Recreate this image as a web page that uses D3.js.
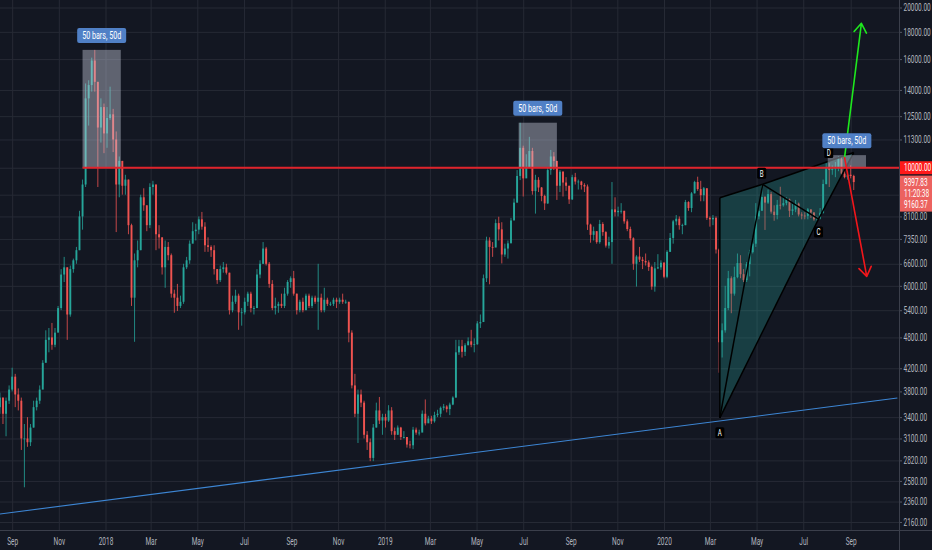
<!DOCTYPE html>
<html>
<head>
<meta charset="utf-8">
<script src="https://cdn.jsdelivr.net/npm/d3@7.9.0/dist/d3.min.js"></script>
<style>
  html, body { margin: 0; padding: 0; background: #131722; overflow: hidden; }
  svg { display: block; }
  text { font-family: Roboto, "DejaVu Sans", sans-serif; }
</style>
</head>
<body>
<svg id="chart" width="932" height="550"></svg>
<script>
// 4-day candles, EUR prices; open = previous close
const firstDay = '2017-08-14';
const periodDays = 4;
const firstOpen = 3550;

const closes = [
  3700, 3450, 3650, 3830, 4050, 3750, 3650, 3100, 3100, 3050,
  3250, 3550, 3650, 3830, 4300, 4750, 4800, 4650, 4900, 5450,
  6300, 6500, 5300, 6450, 6700, 7000, 8100, 9300, 13500, 14300,
  15900, 14500, 11900, 13000, 11600, 12400, 12600, 11300, 9300, 10300,
  9250, 9500, 7800, 5700, 6700, 7000, 8800, 8500, 7800, 9200,
  9300, 7500, 7400, 6500, 7100, 6850, 5800, 5700, 5500, 5600,
  6500, 6700, 7200, 7600, 7650, 8000, 7750, 7150, 7100, 7000,
  6450, 6150, 6450, 6500, 6350, 5400, 5600, 5750, 5350, 5350,
  5600, 5800, 5450, 5450, 6300, 6600, 7050, 6600, 6050, 5450,
  5500, 5550, 5500, 5800, 6100, 6200, 5800, 5400, 5600, 5400,
  5750, 5500, 5700, 5600, 5700, 5400, 5650, 5550, 5550, 5650,
  5600, 5650, 5600, 5600, 4900, 3900, 3450, 3750, 3620, 3150,
  3050, 2850, 3250, 3500, 3350, 3400, 3350, 3500, 3200, 3150,
  3250, 3120, 3120, 3020, 3010, 3220, 3180, 3180, 3450, 3310,
  3380, 3340, 3430, 3450, 3540, 3560, 3520, 3590, 3700, 4500,
  4620, 4510, 4640, 4720, 4650, 4660, 5100, 5130, 6200, 7300,
  7100, 7080, 7870, 7660, 6870, 7050, 7210, 7960, 8600, 9650,
  10900, 9550, 9990, 10750, 9040, 9490, 9180, 8850, 8570, 9900,
  10500, 10300, 9250, 9830, 9380, 9250, 8720, 9600, 9420, 9420,
  9280, 9220, 7820, 7480, 7600, 7250, 7840, 7570, 7140, 7250,
  8350, 8250, 8300, 8300, 7930, 7670, 7370, 6600, 6810, 6720,
  6680, 6640, 6510, 5980, 6470, 6500, 6630, 6240, 6950, 7380,
  7930, 8020, 7800, 7800, 8620, 8400, 8950, 9400, 9120, 8880,
  9150, 8050, 8000, 8050, 7020, 4700, 4950, 5450, 6200, 5800,
  6230, 6620, 6310, 6150, 6590, 6940, 7200, 8100, 8300, 8810,
  8600, 8920, 8270, 8150, 8520, 8500, 8580, 8720, 8300, 8350,
  8560, 8170, 8130, 8120, 8350, 8240, 8000, 8030, 8230, 9320,
  10030, 9900, 9950, 9970, 10380, 9750, 9600, 9700, 9650, 9397.83
];

const highs = [
  3780, 3700, 3700, 3900, 4210, 4100, 3850, 3700, 3300, 3400,
  3300, 3650, 3700, 3900, 4350, 4950, 5000, 5110, 5000, 5500,
  6450, 6800, 6500, 6550, 6750, 7100, 8300, 9500, 14400, 14600,
  16100, 16650, 14500, 13500, 13200, 13000, 14200, 12900, 11700, 10500,
  10300, 9700, 9500, 7850, 6900, 7300, 8900, 9150, 8500, 9350,
  9450, 9300, 7800, 7400, 7300, 7250, 6900, 5900, 6050, 5750,
  6600, 6800, 7300, 7900, 7850, 8100, 8260, 7900, 7400, 7150,
  7150, 6450, 6550, 6650, 6600, 6350, 5750, 5900, 5800, 5450,
  5700, 5850, 5850, 5500, 6450, 6700, 7250, 7100, 6650, 6150,
  5700, 5600, 5800, 5950, 6150, 6250, 6400, 5800, 5650, 5700,
  5800, 5800, 5750, 5750, 6600, 5800, 5950, 5700, 5600, 5700,
  5700, 5700, 5800, 5650, 5600, 4950, 4100, 3830, 3830, 3650,
  3200, 3100, 3300, 3620, 3710, 3450, 3450, 3580, 3550, 3250,
  3280, 3260, 3200, 3120, 3070, 3260, 3250, 3220, 3500, 3670,
  3420, 3420, 3480, 3510, 3560, 3600, 3580, 3620, 3720, 4750,
  4750, 4750, 4680, 4800, 4960, 4780, 5150, 5300, 6300, 7420,
  7400, 7250, 8000, 8090, 7900, 7200, 7300, 8050, 8750, 9900,
  12150, 11000, 10600, 11430, 10900, 9700, 9600, 9200, 8900, 10030,
  10800, 10700, 10300, 9900, 9850, 9600, 9250, 9700, 9780, 9500,
  9450, 9350, 9300, 7850, 7750, 7600, 7980, 7900, 7600, 7420,
  9400, 8800, 8450, 8580, 8300, 8000, 7750, 7400, 6850, 7100,
  6800, 6900, 6700, 6550, 6650, 6880, 6700, 6650, 7000, 7540,
  7980, 8150, 8100, 7850, 8700, 8650, 9000, 9450, 9620, 9450,
  9200, 9150, 8100, 8150, 8100, 7050, 5100, 6000, 6400, 6250,
  6520, 6900, 6850, 6450, 6650, 7010, 7400, 8580, 8500, 9310,
  8850, 9100, 9000, 8500, 8700, 9210, 8800, 8800, 8750, 8550,
  8700, 8600, 8250, 8250, 8400, 8350, 8250, 8100, 8400, 9500,
  10200, 10200, 10100, 10250, 10500, 10480, 10000, 9850, 10100, 9700
];

const lows = [
  3450, 3300, 3130, 3600, 3800, 3550, 3500, 2950, 2510, 2990,
  3000, 3250, 3500, 3600, 3900, 4450, 4500, 4550, 4600, 4950,
  5400, 6100, 4750, 5250, 6350, 6600, 7000, 7650, 9200, 12000,
  13900, 13900, 9200, 11150, 10650, 10900, 12300, 10700, 7570, 8800,
  8900, 8900, 7500, 5500, 4710, 6500, 7000, 8300, 7600, 7700,
  8900, 7000, 7050, 6300, 5950, 6700, 5700, 5340, 5380, 5450,
  5550, 6450, 6600, 7250, 7300, 7500, 7650, 6950, 6950, 6800,
  6300, 6050, 6100, 6350, 6300, 5300, 5350, 5550, 4960, 5050,
  5300, 5500, 5350, 5300, 5450, 6200, 6600, 6550, 5950, 5400,
  5300, 5340, 5450, 5450, 5750, 5950, 5750, 5300, 5350, 5350,
  5400, 5450, 5450, 5550, 4960, 5350, 5350, 5500, 5500, 5500,
  5450, 5550, 5550, 5550, 4700, 3850, 3400, 3040, 3550, 3100,
  2950, 2810, 2810, 3250, 3300, 3150, 3250, 3330, 3150, 3080,
  3150, 3080, 3100, 2980, 2970, 2960, 3150, 3140, 3200, 3280,
  3320, 3300, 3320, 3400, 3400, 3500, 3470, 3430, 3580, 3700,
  4450, 4400, 4430, 4640, 4600, 4500, 4650, 5000, 5200, 6100,
  6040, 6800, 7100, 7300, 6610, 6800, 6750, 7250, 8050, 8600,
  9480, 8830, 9700, 10000, 8900, 8200, 9000, 8650, 8330, 8550,
  9700, 9900, 8700, 9000, 8830, 9050, 8550, 8700, 9300, 9100,
  9100, 9000, 7640, 7230, 7300, 7200, 7200, 7450, 7080, 7050,
  6600, 8100, 8100, 8200, 7850, 7600, 7300, 6430, 5980, 6650,
  6450, 6550, 6400, 5900, 5850, 6450, 6430, 6200, 6200, 6950,
  7200, 7800, 7650, 7500, 7800, 8300, 8250, 8950, 9050, 8650,
  8650, 7980, 7750, 7800, 6900, 4120, 4400, 4900, 5400, 5330,
  5750, 6200, 6200, 6100, 6100, 6250, 6900, 7100, 8000, 8400,
  7640, 8550, 8200, 7950, 8000, 8350, 8450, 8500, 8080, 8150,
  8250, 8100, 8000, 8000, 8000, 8050, 7950, 7960, 8000, 8200,
  9300, 9200, 9700, 9600, 9850, 9650, 9550, 9500, 9550, 9080
];

// price axis labels as shown, plus grid lines hidden under the price tags
const priceTicks = [20000, 18000, 16000, 14000, 12500, 11300, 8100, 7350, 6600,
  6000, 5400, 4800, 4200, 3800, 3400, 3100, 2820, 2580, 2360, 2160];
const gridPrices = priceTicks.concat([10000, 8900]);

const monthTicks = ['2017-09-01', '2017-11-01', '2018-01-01', '2018-03-01', '2018-05-01',
  '2018-07-01', '2018-09-01', '2018-11-01', '2019-01-01', '2019-03-01', '2019-05-01',
  '2019-07-01', '2019-09-01', '2019-11-01', '2020-01-01', '2020-03-01', '2020-05-01',
  '2020-07-01', '2020-09-01'];

// drawings
const levelPrice = 10000;
const levelStart = '2017-12-02';
const trendLine = [['2017-08-16', 2236], ['2020-11-01', 3694]];
const ranges = [
  { from: '2017-12-02', to: '2018-01-21', lo: 10000, hi: 16650 },
  { from: '2019-06-25', to: '2019-08-14', lo: 10000, hi: 12150 },
  { from: '2020-08-02', to: '2020-09-21', lo: 10000, hi: 10560 }
];
const rangeText = '50 bars, 50d';
const patternNames = ['X', 'A', 'B', 'C', 'D'];
const patternDates = ['2020-03-14', '2020-03-14', '2020-05-09', '2020-07-21', '2020-09-05'];
const patternPrices = [8780, 3390, 9310, 8010, 10680];
const upArrow = [['2020-08-24', 10450], ['2020-09-15', 18680]];
const downArrow = [['2020-08-24', 10450], ['2020-09-22', 6250]];
const lastPrice = '9397.83';
const countdown = '11:20:38';
const otherPrice = '9160.37';

const W = 932, H = 550, paneW = 899, paneH = 530;
const sx = 0.65; // narrow text like the screenshot
const parse = d3.utcParse('%Y-%m-%d');
const DAY = 864e5;

const svg = d3.select('#chart');
svg.append('rect').attr('width', W).attr('height', H).attr('fill', '#131722');

const x = d3.scaleUtc()
  .domain([parse('2018-01-01'), parse('2020-01-01')])
  .range([105.5, 664]);
const y = d3.scaleLog().domain([2160, 20000]).range([522, 7.5]);

const P = (d, p) => [x(parse(d)), y(p)];

// gridlines
svg.append('g')
  .call(d3.axisRight(y).tickValues(gridPrices).tickSize(paneW).tickFormat(''))
  .call(g => g.select('.domain').remove())
  .selectAll('line').attr('stroke', '#262a35');
svg.append('g')
  .call(d3.axisBottom(x).tickValues(monthTicks.map(parse)).tickSize(paneH).tickFormat(''))
  .call(g => g.select('.domain').remove())
  .selectAll('line').attr('stroke', '#262a35');

svg.append('clipPath').attr('id', 'pane')
  .append('rect').attr('width', paneW).attr('height', paneH);
const pane = svg.append('g').attr('clip-path', 'url(#pane)');

// trend line
pane.append('line')
  .attr('x1', P(...trendLine[0])[0]).attr('y1', P(...trendLine[0])[1])
  .attr('x2', P(...trendLine[1])[0]).attr('y2', P(...trendLine[1])[1])
  .attr('stroke', '#3d86d4').attr('stroke-width', 1.1);

// candles
const t0 = parse(firstDay);
const candles = closes.map((c, i) => ({
  t: new Date(t0.getTime() + i * periodDays * DAY),
  open: i ? closes[i - 1] : firstOpen,
  close: c,
  high: highs[i],
  low: lows[i]
}));
const step = x(new Date(t0.getTime() + periodDays * DAY)) - x(t0);
const bodyW = step * 0.62;
const mid = d => x(new Date(d.t.getTime() + periodDays * DAY / 2));
const col = d => d.close >= d.open ? '#26a69a' : '#ef5350';

const cg = pane.append('g').attr('class', 'candles');
cg.selectAll('line').data(candles).join('line')
  .attr('x1', mid).attr('x2', mid)
  .attr('y1', d => y(d.high)).attr('y2', d => y(d.low))
  .attr('stroke', col).attr('stroke-width', 0.8);
cg.selectAll('rect').data(candles).join('rect')
  .attr('x', d => mid(d) - bodyW / 2)
  .attr('width', bodyW)
  .attr('y', d => y(Math.max(d.open, d.close)))
  .attr('height', d => Math.max(0.8, Math.abs(y(d.open) - y(d.close))))
  .attr('fill', col);

// harmonic pattern
const pts = patternDates.map((d, i) => P(d, patternPrices[i]));
const [pX, pA, pB, pC, pD] = pts;
pane.append('path')
  .attr('d', d3.line()([pX, pB, pD, pC, pA]) + 'Z')
  .attr('fill', 'rgba(38,166,154,0.28)');
const seg = (a, b) => pane.append('line')
  .attr('x1', a[0]).attr('y1', a[1]).attr('x2', b[0]).attr('y2', b[1])
  .attr('stroke', '#000').attr('stroke-width', 1.5);
seg(pX, pB); seg(pB, pD); seg(pX, pA); seg(pA, pB); seg(pB, pC); seg(pA, pC); seg(pC, pD);

// date ranges
ranges.forEach(r => {
  const x0 = x(parse(r.from)), x1 = x(parse(r.to));
  pane.append('rect')
    .attr('x', x0).attr('y', y(r.hi))
    .attr('width', x1 - x0).attr('height', y(r.lo) - y(r.hi))
    .attr('fill', 'rgba(200,206,222,0.42)');
});

// 10000 level
pane.append('line')
  .attr('x1', x(parse(levelStart))).attr('x2', paneW)
  .attr('y1', y(levelPrice)).attr('y2', y(levelPrice))
  .attr('stroke', '#e0232b').attr('stroke-width', 2);

// arrows
function arrow(a, b, color) {
  const [x0, y0] = P(...a), [x1, y1] = P(...b);
  const ang = Math.atan2(y1 - y0, x1 - x0), len = 11, spread = 0.6;
  const h1 = [x1 - len * Math.cos(ang - spread), y1 - len * Math.sin(ang - spread)];
  const h2 = [x1 - len * Math.cos(ang + spread), y1 - len * Math.sin(ang + spread)];
  pane.append('path')
    .attr('d', `M${x0},${y0}L${x1},${y1}M${h1}L${x1},${y1}L${h2}`)
    .attr('fill', 'none').attr('stroke', color).attr('stroke-width', 1.6)
    .attr('stroke-linejoin', 'round').attr('stroke-linecap', 'round');
}
arrow(upArrow[0], upArrow[1], '#1ee81e');
arrow(downArrow[0], downArrow[1], '#f2161b');

// text helper: squeezed horizontally
function label(g, tx, ty, str, size, fill, anchor = 'middle') {
  return g.append('text')
    .attr('transform', `translate(${tx},${ty}) scale(${sx},1)`)
    .attr('text-anchor', anchor).attr('dy', '0.35em')
    .attr('font-size', size).attr('fill', fill).text(str);
}

const ann = svg.append('g');

// point labels A-D (drawn first so the range tags sit on top)
const labelOffsets = { A: [0, 15], B: [-1, -11], C: [0, 13], D: [-25, 0] };
patternNames.forEach((n, i) => {
  if (!labelOffsets[n]) return;
  const [lx, ly] = [pts[i][0] + labelOffsets[n][0], pts[i][1] + labelOffsets[n][1]];
  ann.append('rect').attr('x', lx - 4.5).attr('y', ly - 5.5).attr('width', 9).attr('height', 11)
    .attr('rx', 1.5).attr('fill', '#000');
  label(ann, lx, ly, n, 9.5, '#ffffff');
});

ranges.forEach(r => {
  const cx = (x(parse(r.from)) + x(parse(r.to))) / 2;
  const top = y(r.hi) - 7;
  ann.append('rect')
    .attr('x', cx - 24.5).attr('y', top - 15).attr('width', 49).attr('height', 15)
    .attr('rx', 2).attr('fill', '#5080c6');
  label(ann, cx, top - 7.5, rangeText, 11, '#ffffff');
});

// price axis
const yAxis = svg.append('g').attr('transform', `translate(${paneW},0)`)
  .call(d3.axisRight(y).tickValues(priceTicks).tickSize(3).tickFormat(d => d.toFixed(2)));
yAxis.select('.domain').remove();
yAxis.selectAll('line').attr('stroke', '#565a66');
yAxis.selectAll('text')
  .attr('x', 4.5 / sx).attr('transform', `scale(${sx},1)`)
  .attr('font-size', 10).attr('fill', '#b2b5be').attr('font-family', null);

// time axis
const xAxis = svg.append('g').attr('transform', `translate(0,${paneH})`)
  .call(d3.axisBottom(x).tickValues(monthTicks.map(parse)).tickSize(0).tickPadding(7.5)
    .tickFormat(d => d.getUTCMonth() === 0 ? d3.utcFormat('%Y')(d) : d3.utcFormat('%b')(d)));
xAxis.select('.domain').remove();
xAxis.selectAll('text').attr('transform', `scale(${sx},1)`)
  .attr('font-size', 10).attr('fill', '#b2b5be').attr('font-family', null);

// pane borders
svg.append('line').attr('x1', paneW + 0.5).attr('x2', paneW + 0.5).attr('y1', 0).attr('y2', H)
  .attr('stroke', '#3b3f4b');
svg.append('line').attr('x1', 0).attr('x2', W).attr('y1', paneH + 0.5).attr('y2', paneH + 0.5)
  .attr('stroke', '#3b3f4b');

// price tags on the axis
const tags = svg.append('g');
const yl = y(levelPrice);
tags.append('rect').attr('x', paneW + 1).attr('y', yl - 6.5).attr('width', W - paneW).attr('height', 13)
  .attr('fill', '#ff1a1a');
label(tags, paneW + 5, yl, levelPrice.toFixed(2), 10, '#ffffff', 'start');

const yp = y(+lastPrice);
tags.append('rect').attr('x', paneW + 1).attr('y', yp - 6.5).attr('width', W - paneW).attr('height', 36)
  .attr('fill', '#ec625f');
label(tags, paneW + 5, yp, lastPrice, 10, '#ffffff', 'start');
label(tags, paneW + 5, yp + 11.5, countdown, 10, '#ffffff', 'start');
label(tags, paneW + 5, yp + 22.5, otherPrice, 10, '#ffffff', 'start');
</script>
</body>
</html>
